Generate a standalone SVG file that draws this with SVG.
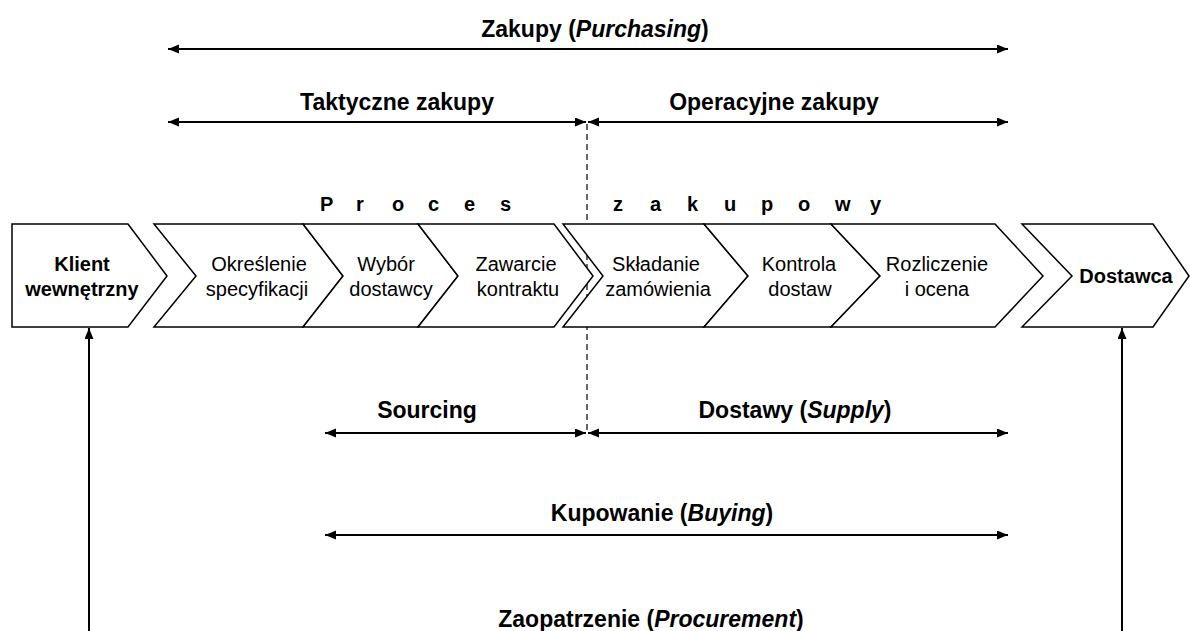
<svg xmlns="http://www.w3.org/2000/svg" width="1190" height="631" viewBox="0 0 1190 631">
<style>
  .chev { fill: #ffffff; stroke: #000000; stroke-width: 1.5; stroke-linejoin: miter; }
  .t { font-family: "Liberation Sans", Arial, sans-serif; font-size: 20px; fill: #000000; text-anchor: middle; }
  .b { font-weight: bold; }
  .lbl { font-family: "Liberation Sans", Arial, sans-serif; font-size: 23px; font-weight: bold; fill: #000000; text-anchor: middle; }
  .sp { font-family: "Liberation Sans", Arial, sans-serif; font-size: 20px; font-weight: bold; fill: #000000; }
  .arr { stroke: #000000; stroke-width: 2; fill: none; }
  .dash { stroke: #000000; stroke-width: 1.2; stroke-dasharray: 6 4; fill: none; }
</style>
<defs>
  <marker id="ah" markerUnits="userSpaceOnUse" markerWidth="12" markerHeight="10" refX="11" refY="4.5" orient="auto-start-reverse">
    <path d="M0,0 L11,4.5 L0,9 Z" fill="#000000"/>
  </marker>
</defs>

<g id="connectors">
  <line class="arr" x1="168" y1="49" x2="1008" y2="49" marker-start="url(#ah)" marker-end="url(#ah)"/>
  <line class="arr" x1="168" y1="122" x2="586" y2="122" marker-start="url(#ah)" marker-end="url(#ah)"/>
  <line class="arr" x1="588" y1="122" x2="1008" y2="122" marker-start="url(#ah)" marker-end="url(#ah)"/>
  <line class="arr" x1="325" y1="433" x2="586" y2="433" marker-start="url(#ah)" marker-end="url(#ah)"/>
  <line class="arr" x1="588" y1="433" x2="1008" y2="433" marker-start="url(#ah)" marker-end="url(#ah)"/>
  <line class="arr" x1="325" y1="535" x2="1008" y2="535" marker-start="url(#ah)" marker-end="url(#ah)"/>
  <line class="dash" x1="587" y1="124" x2="587" y2="431"/>
  <line class="arr" x1="89" y1="631" x2="89" y2="328" marker-end="url(#ah)"/>
  <line class="arr" x1="1122" y1="631" x2="1122" y2="328" marker-end="url(#ah)"/>
</g>

<g id="labels">
  <text class="lbl" x="595" y="37">Zakupy (<tspan font-style="italic">Purchasing</tspan>)</text>
  <text class="lbl" x="397" y="110">Taktyczne zakupy</text>
  <text class="lbl" x="774" y="110">Operacyjne zakupy</text>
  <text class="lbl" x="427" y="418">Sourcing</text>
  <text class="lbl" x="795" y="418">Dostawy (<tspan font-style="italic">Supply</tspan>)</text>
  <text class="lbl" x="662" y="521">Kupowanie (<tspan font-style="italic">Buying</tspan>)</text>
  <text class="lbl" x="651" y="627">Zaopatrzenie (<tspan font-style="italic">Procurement</tspan>)</text>
  <text class="sp" x="320 356 392 428 464 500" y="211">Proces</text>
  <text class="sp" x="613 650 687 724 761 798 835 870" y="211">zakupowy</text>
</g>

<g id="klient">
  <path class="chev" d="M12,224 H128 L167,276 L128,327 H12 Z"/>
  <text class="t b" x="82" y="271">Klient</text>
  <text class="t b" x="82" y="296">wewnętrzny</text>
</g>
<g id="okreslenie">
  <path class="chev" d="M154,224 H303 L343,276 L303,327 H154 L196,276 Z"/>
  <text class="t" x="259" y="271">Określenie</text>
  <text class="t" x="257" y="296">specyfikacji</text>
</g>
<g id="wybor">
  <path class="chev" d="M303,224 H418 L458,276 L418,327 H303 L343,276 Z"/>
  <text class="t" x="386" y="271">Wybór</text>
  <text class="t" x="391" y="296">dostawcy</text>
</g>
<g id="zawarcie">
  <path class="chev" d="M418,224 H554 L593,276 L554,327 H418 L458,276 Z"/>
  <text class="t" x="516" y="271">Zawarcie</text>
  <text class="t" x="518" y="296">kontraktu</text>
</g>
<g id="skladanie">
  <path class="chev" d="M563,224 H704 L748,276 L704,327 H563 L603,276 Z"/>
  <text class="t" x="656" y="271">Składanie</text>
  <text class="t" x="658" y="296">zamówienia</text>
</g>
<g id="kontrola">
  <path class="chev" d="M704,224 H831 L880,276 L831,327 H704 L748,276 Z"/>
  <text class="t" x="799" y="271">Kontrola</text>
  <text class="t" x="800" y="296">dostaw</text>
</g>
<g id="rozliczenie">
  <path class="chev" d="M831,224 H995 L1043,276 L995,327 H831 L880,276 Z"/>
  <text class="t" x="937" y="271">Rozliczenie</text>
  <text class="t" x="937" y="296">i ocena</text>
</g>
<g id="dostawca">
  <path class="chev" d="M1022,224 H1153 L1189,276 L1153,327 H1022 L1072,276 Z"/>
  <text class="t b" x="1126" y="283">Dostawca</text>
</g>
</svg>
